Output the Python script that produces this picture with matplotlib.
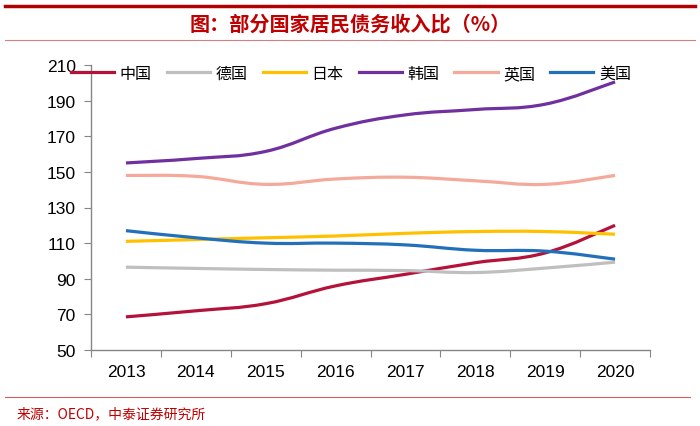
import numpy as np
import matplotlib
matplotlib.use("Agg")
import matplotlib.pyplot as plt
from matplotlib.path import Path
from matplotlib.patches import PathPatch
from matplotlib.lines import Line2D

plt.rcParams['font.family'] = ['Liberation Sans', 'Noto Sans CJK SC', 'DejaVu Sans']

years = ['2013', '2014', '2015', '2016', '2017', '2018', '2019', '2020']
names = ['中国', '德国', '日本', '韩国', '英国', '美国']
china = [68.6, 72, 76, 86, 92.5, 99, 104.5, 120]
germany = [96.5, 95.8, 95.2, 94.8, 94.6, 93.5, 96, 99.3]
japan = [111, 112, 113, 114, 115.5, 116.5, 116.5, 115]
korea = [155, 157.5, 161.5, 174.5, 182, 185, 188, 200.5]
uk = [148, 147.5, 143, 146, 147, 145, 143, 148]
usa = [117, 113, 110, 110, 109, 106, 105.5, 101]
series = [china, germany, japan, korea, uk, usa]
colors = ['#B5123A', '#BFBFBF', '#FFC000', '#7030A0', '#F4A99B', '#2370BA']
yticks = [50, 70, 90, 110, 130, 150, 170, 190, 210]

red = '#C00000'


# 平滑曲线 (类似Excel的平滑线), 用三次贝塞尔
def smooth_path(x, y, t=0.2):
    x = np.asarray(x, float)
    y = np.asarray(y, float)
    n = len(x)
    verts = [(x[0], y[0])]
    codes = [Path.MOVETO]
    for i in range(n - 1):
        p0 = i - 1 if i > 0 else i
        p3 = i + 2 if i + 2 < n else i + 1
        c1 = (x[i] + t * (x[i + 1] - x[p0]), y[i] + t * (y[i + 1] - y[p0]))
        c2 = (x[i + 1] - t * (x[p3] - x[i]), y[i + 1] - t * (y[p3] - y[i]))
        verts += [c1, c2, (x[i + 1], y[i + 1])]
        codes += [Path.CURVE4] * 3
    return Path(verts, codes)


fig = plt.figure(figsize=(7, 4.27), dpi=100)
ax = fig.add_axes([91 / 700, 1 - 351 / 427, 559 / 700, 285 / 427])

xs = np.arange(len(years))
for vals, c in zip(series, colors):
    ax.add_patch(PathPatch(smooth_path(xs, vals), facecolor='none', edgecolor=c,
                           lw=2.3, capstyle='butt', zorder=3))

ax.set_xlim(-0.5, len(years) - 0.5)
ax.set_ylim(50, 210)
ax.set_yticks(yticks)
ax.set_yticklabels([str(v) for v in yticks], fontsize=12.5)
ax.set_xticks(np.arange(-0.5, len(years), 1.0))
ax.set_xticklabels([])
ax.set_xticks(xs, minor=True)
ax.set_xticklabels(years, minor=True, fontsize=12.5)
ax.tick_params(axis='x', which='minor', length=0, pad=10)
ax.tick_params(axis='x', which='major', length=5, color='#868686', direction='out')
ax.tick_params(axis='y', length=5, color='#868686', direction='out', pad=6)
for s in ['top', 'right']:
    ax.spines[s].set_visible(False)
for s in ['left', 'bottom']:
    ax.spines[s].set_color('#868686')
    ax.spines[s].set_linewidth(1.0)

handles = [Line2D([], [], color=c, lw=2.3) for c in colors]
leg = ax.legend(handles, names, loc='upper left', bbox_to_anchor=(-0.036, 1.0), ncol=6,
                frameon=False, handlelength=2.7, handletextpad=0.35, borderaxespad=0,
                borderpad=0, columnspacing=0.95,
                prop={'family': ['Noto Sans CJK SC'], 'size': 11.5})

# 顶部标题和线
fig.add_artist(Line2D([5 / 700, 695 / 700], [1 - 7 / 427, 1 - 7 / 427], color='#B00000', lw=2.5))
fig.add_artist(Line2D([5 / 700, 695 / 700], [1 - 41 / 427, 1 - 41 / 427], color='#D08080', lw=0.8))
fig.text(0.5, 1 - 24 / 427, '图：部分国家居民债务收入比（%）', ha='center', va='center',
         color=red, fontsize=14.5, fontweight='bold', family=['Noto Sans CJK SC', 'DejaVu Sans'])

# 底部来源
fig.add_artist(Line2D([5 / 700, 690 / 700], [1 - 398 / 427, 1 - 398 / 427], color='#D06060', lw=0.8))
fig.text(17 / 700, 1 - 414 / 427, '来源：OECD，中泰证券研究所', ha='left', va='center',
         color=red, fontsize=10, family=['Noto Sans CJK SC', 'DejaVu Sans'])

fig.savefig('out.png', dpi=100)
